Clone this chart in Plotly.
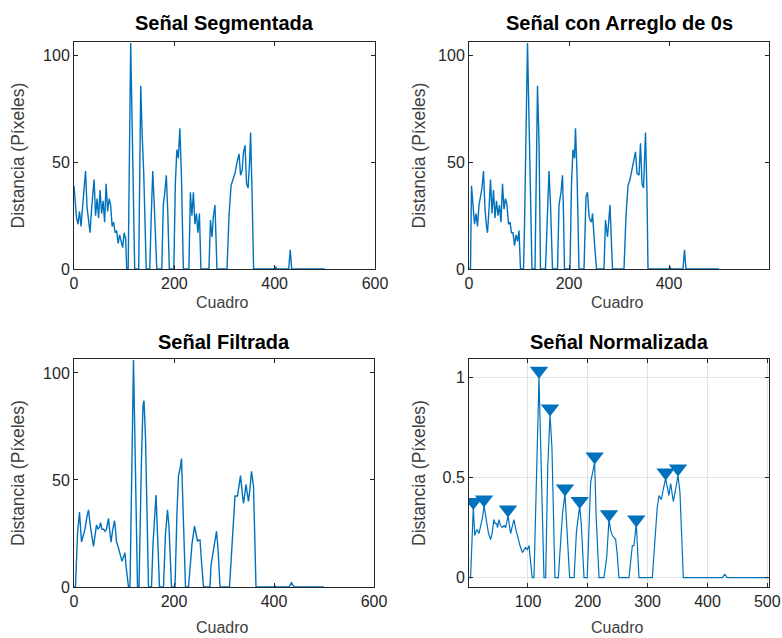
import plotly.graph_objects as go

# ---------------- data ----------------
seg_x = [0, 2, 5, 8, 11, 14, 17, 20, 23, 26,
         29, 32, 35, 38, 40, 43, 46, 49, 52, 55,
         58, 61, 64, 67, 70, 73, 76, 79, 82, 85,
         88, 91, 94, 97, 100, 103, 105, 108, 113, 121,
         129, 133, 136, 139, 144, 151, 154, 157, 160, 165,
         175, 178, 181, 184, 187, 190, 199, 202, 205, 208,
         211, 214, 218, 229, 232, 235, 238, 241, 244, 247,
         250, 253, 269, 272, 275, 278, 281, 285, 305, 309,
         313, 317, 321, 325, 329, 332, 335, 338, 341, 344,
         347, 350, 352, 355, 358, 400, 402, 404, 428, 431,
         434, 500]
seg_y = [39, 33, 24, 21, 27, 20, 30, 35, 46, 29,
         22, 17, 28, 36, 42, 25, 33, 24, 37, 26,
         32, 22, 40, 27, 33, 30, 20, 22, 17, 18,
         12, 16, 13, 10, 17, 14, 0, 0, 106, 0,
         0, 86, 62, 45, 0, 0, 25, 46, 30, 0,
         0, 30, 36, 44, 26, 0, 0, 40, 56, 52,
         66, 45, 0, 0, 36, 25, 36, 21, 26, 17,
         26, 0, 0, 23, 15, 25, 30, 0, 0, 25,
         39, 42, 45, 50, 54, 44, 46, 55, 58, 40,
         38, 50, 64, 35, 0, 0, 1, 0, 0, 9,
         0, 0]

arr_x = [0, 3, 5, 8, 11, 14, 17, 20, 23, 26,
         29, 32, 35, 37, 40, 43, 46, 49, 52, 55,
         58, 61, 64, 67, 70, 73, 76, 79, 82, 85,
         88, 91, 94, 97, 100, 103, 109, 111, 117, 126,
         132, 137, 140, 143, 153, 156, 160, 163, 167, 177,
         180, 184, 187, 189, 191, 202, 205, 208, 211, 213,
         216, 220, 230, 234, 237, 240, 242, 245, 247, 251,
         255, 270, 273, 277, 280, 282, 287, 310, 314, 318,
         322, 327, 330, 333, 336, 340, 343, 346, 349, 351,
         353, 356, 358, 400, 402, 404, 428, 431, 434, 500]
arr_y = [0, 0, 39, 30, 21, 26, 20, 30, 34, 38,
         46, 28, 20, 17, 28, 42, 26, 37, 24, 32,
         25, 30, 22, 40, 28, 33, 30, 21, 22, 17,
         17, 11, 16, 13, 18, 0, 0, 20, 106, 0,
         0, 86, 60, 0, 0, 25, 46, 30, 0, 0,
         30, 36, 44, 26, 0, 0, 40, 56, 52, 66,
         45, 0, 0, 34, 36, 25, 23, 22, 26, 12,
         0, 0, 23, 15, 25, 30, 0, 0, 25, 39,
         42, 48, 52, 55, 45, 44, 59, 40, 38, 50,
         64, 35, 0, 0, 1, 0, 0, 9, 0, 0]

fil_x = [0, 3, 7, 11, 15, 19, 22, 26, 29, 33,
         36, 39, 42, 45, 48, 51, 53, 56, 59, 62,
         65, 67, 69, 72, 74, 77, 81, 83, 85, 88,
         91, 94, 96, 99, 102, 104, 109, 112, 119, 127,
         130, 135, 138, 140, 143, 149, 155, 158, 161, 164,
         167, 171, 179, 183, 187, 190, 195, 202, 206, 209,
         212, 215, 219, 223, 229, 232, 236, 241, 244, 247,
         250, 252, 255, 259, 272, 274, 277, 281, 285, 288,
         292, 311, 316, 320, 322, 327, 330, 333, 336, 339,
         342, 344, 347, 349, 352, 355, 359, 364, 400, 402,
         404, 430, 435, 440, 500]
fil_y = [0, 0, 25, 35, 21, 24, 27, 33, 36, 28,
         22, 19, 24, 29, 27, 28, 30, 27, 27, 26,
         27, 29, 32, 25, 21, 26, 31, 27, 21, 19,
         16, 13, 12, 14, 16, 10, 0, 0, 106, 0,
         0, 60, 85, 87, 70, 0, 0, 20, 35, 43,
         25, 0, 0, 25, 36, 28, 0, 0, 35, 52,
         55, 60, 30, 0, 0, 10, 20, 28.5, 25, 21.5,
         22, 22, 12, 0, 0, 10, 14.5, 20, 26, 18,
         0, 0, 22, 38, 42.5, 42.5, 47, 52, 45, 39,
         44, 48, 43, 40, 46, 54, 47, 0, 0, 0.5,
         0, 0, 2, 0, 0]

nor_x = [2, 4, 8.6, 10, 11, 13, 15, 18, 21, 24,
         26.5, 30, 34, 37.6, 40, 43, 45, 47.6, 49, 51.5,
         54, 57, 60, 62.7, 66.6, 69, 71, 74, 76.6, 79,
         82, 86.6, 90.5, 93, 96, 99, 101.7, 107, 110, 118.4,
         126.7, 129.5, 133, 136.8, 140, 145, 150.7, 155, 158, 161.8,
         165, 169.6, 177, 181, 186.4, 189, 193.6, 199, 204.7, 208,
         211.4, 214, 218.7, 227, 231.5, 235.4, 238, 241, 244, 246.5,
         249, 252, 268.8, 272, 274.4, 277, 281, 283, 285.5, 307.8,
         312, 316, 319, 322.8, 326, 330, 333, 335.6, 338.4, 340,
         342.9, 346, 350.7, 354, 359.6, 400, 425, 429, 433, 502]
nor_y = [0, 0, 0.35, 0.28, 0.21, 0.23, 0.24, 0.22, 0.26, 0.30,
         0.36, 0.30, 0.22, 0.19, 0.22, 0.29, 0.27, 0.27, 0.25, 0.29,
         0.26, 0.25, 0.26, 0.25, 0.31, 0.26, 0.22, 0.26, 0.29, 0.25,
         0.21, 0.16, 0.125, 0.14, 0.15, 0.14, 0.16, 0, 0, 1.0,
         0, 0, 0.55, 0.815, 0.65, 0, 0, 0.2, 0.33, 0.417,
         0.25, 0, 0, 0.23, 0.358, 0.27, 0, 0, 0.475, 0.52,
         0.575, 0.3, 0, 0, 0.1, 0.29, 0.24, 0.21, 0.2, 0.19,
         0.12, 0, 0, 0.1, 0.16, 0.16, 0.27, 0.15, 0, 0,
         0.2, 0.35, 0.41, 0.39, 0.44, 0.495, 0.45, 0.41, 0.47, 0.43,
         0.38, 0.43, 0.51, 0.425, 0, 0, 0, 0.017, 0, 0]

pk_x = [8.6, 26.5, 66.6, 118.4, 136.8, 161.8, 186.4, 211.4, 235.4, 281, 330, 350.7]
pk_y = [0.378, 0.39, 0.34, 1.033, 0.845, 0.445, 0.383, 0.605, 0.317, 0.29, 0.525, 0.545]

titles = ["Señal Segmentada", "Señal con Arreglo de 0s", "Señal Filtrada", "Señal Normalizada"]
xlabel = "Cuadro"
ylabel = "Distancia (Píxeles)"

# ---------------- layout helpers ----------------
W, H = 782, 638
def fx(px):
    return px / W
def fy(py):
    return 1 - py / H

BLUE = "#0072BD"
AX = "#262626"
FONT = "Liberation Sans, Arial, sans-serif"
LW = 1.4

fig = go.Figure()
fig.add_trace(go.Scatter(x=seg_x, y=seg_y, mode="lines", line=dict(color=BLUE, width=LW), xaxis="x", yaxis="y"))
fig.add_trace(go.Scatter(x=arr_x, y=arr_y, mode="lines", line=dict(color=BLUE, width=LW), xaxis="x2", yaxis="y2"))
fig.add_trace(go.Scatter(x=fil_x, y=fil_y, mode="lines", line=dict(color=BLUE, width=LW), xaxis="x3", yaxis="y3"))
fig.add_trace(go.Scatter(x=nor_x, y=nor_y, mode="lines", line=dict(color=BLUE, width=1.2), xaxis="x4", yaxis="y4"))
fig.add_trace(go.Scatter(x=pk_x, y=pk_y, mode="markers",
                         marker=dict(symbol="triangle-down", size=16, color=BLUE, line=dict(width=0)),
                         xaxis="x4", yaxis="y4"))

boxes = [(74, 375, 42, 269), (469, 769, 42, 269), (74, 374, 359, 587), (469, 769, 359, 587)]

def axstyle(**kw):
    d = dict(showline=True, linecolor=AX, linewidth=1, mirror="allticks", ticks="inside",
             ticklen=4, tickcolor=AX, showgrid=False, zeroline=False, automargin=False,
             tickfont=dict(family=FONT, size=16, color=AX))
    d.update(kw)
    return d

lay = {}
names = ["", "2", "3", "4"]
for i, (l, r, t, b) in enumerate(boxes):
    n = names[i]
    xa = dict(domain=[fx(l), fx(r)], anchor="y" + n)
    ya = dict(domain=[fy(b), fy(t)], anchor="x" + n)
    if i < 3:
        xa.update(axstyle(range=[0, 600], tickvals=[0, 200, 400, 600]))
        ya.update(axstyle(range=[0, 106.5], tickvals=[0, 50, 100]))
    else:
        xa.update(axstyle(range=[1.4, 502.8], tickvals=[100, 200, 300, 400, 500],
                          showgrid=True, gridcolor="#e3e3e3", gridwidth=1))
        ya.update(axstyle(range=[-0.047, 1.092], tickvals=[0, 0.5, 1], ticktext=["0", "0.5", "1"],
                          showgrid=True, gridcolor="#e3e3e3", gridwidth=1))
    lay["xaxis" + n] = xa
    lay["yaxis" + n] = ya

ann = []
title_y = [23, 23, 342, 342]
xl_y = [302, 302, 627, 627]
yl_x = [18, 419, 18, 419]
for i, (l, r, t, b) in enumerate(boxes):
    cx = (l + r) / 2
    ann.append(dict(text="<b>" + titles[i] + "</b>", x=fx(cx), y=fy(title_y[i]), xref="paper", yref="paper",
                    showarrow=False, xanchor="center", yanchor="middle",
                    font=dict(family=FONT, size=20, color="#000000")))
    ann.append(dict(text=xlabel, x=fx(cx - 2), y=fy(xl_y[i]), xref="paper", yref="paper",
                    showarrow=False, xanchor="center", yanchor="middle",
                    font=dict(family=FONT, size=16, color="#404040")))
    ann.append(dict(text=ylabel, x=fx(yl_x[i]), y=fy((t + b) / 2), xref="paper", yref="paper",
                    showarrow=False, xanchor="center", yanchor="middle", textangle=-90,
                    font=dict(family=FONT, size=17.5, color="#404040")))

fig.update_layout(width=W, height=H, autosize=False, margin=dict(l=0, r=0, t=0, b=0, pad=0),
                  paper_bgcolor="white", plot_bgcolor="white", showlegend=False,
                  annotations=ann, **lay)

post = ("document.documentElement.style.margin='0';document.body.style.margin='0';"
        "document.documentElement.style.overflow='hidden';document.body.style.overflow='hidden';"
        "var gd=document.getElementById('{plot_id}');gd.style.position='fixed';"
        "gd.style.left='0px';gd.style.top='0px';")

fig.write_html("out.html", config={"displayModeBar": False}, post_script=post)
